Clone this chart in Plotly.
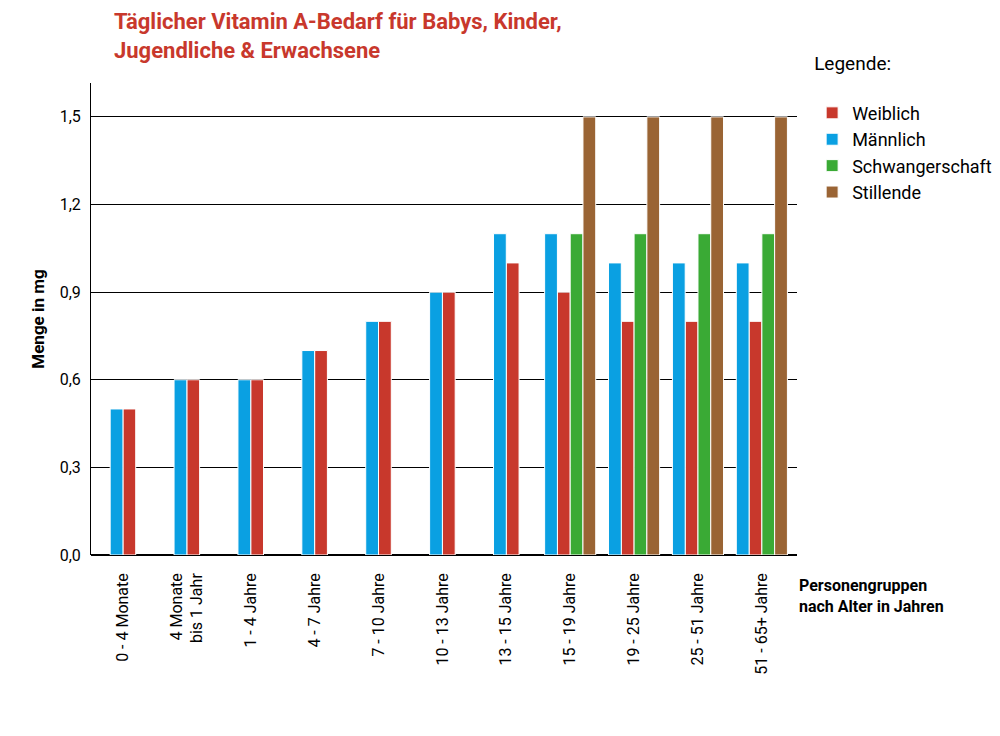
import plotly.graph_objects as go

categories = ["0 - 4 Monate", "4 Monate<br>bis 1 Jahr", "1 - 4 Jahre", "4 - 7 Jahre", "7 - 10 Jahre",
              "10 - 13 Jahre", "13 - 15 Jahre", "15 - 19 Jahre", "19 - 25 Jahre", "25 - 51 Jahre", "51 - 65+ Jahre"]
maennlich = [0.5, 0.6, 0.6, 0.7, 0.8, 0.9, 1.1, 1.1, 1.0, 1.0, 1.0]
weiblich = [0.5, 0.6, 0.6, 0.7, 0.8, 0.9, 1.0, 0.9, 0.8, 0.8, 0.8]
schwanger = [None]*7 + [1.1, 1.1, 1.1, 1.1]
stillende = [None]*7 + [1.5, 1.5, 1.5, 1.5]
y_ticks = [0, 0.3, 0.6, 0.9, 1.2, 1.5]
y_labels = ["0,0", "0,3", "0,6", "0,9", "1,2", "1,5"]

series = [("Männlich", maennlich, "#0aa0e2"), ("Weiblich", weiblich, "#c8382c"),
          ("Schwangerschaft", schwanger, "#3aaa35"), ("Stillende", stillende, "#9a6434")]
W = 0.2
xs = list(range(len(categories)))
counts = [sum(1 for _, v, _ in series if v[i] is not None) for i in xs]

fig = go.Figure()
traces = {}
for si, (name, vals, col) in enumerate(series):
    offs = []
    for i in xs:
        idx = sum(1 for _, v, _ in series[:si] if v[i] is not None)
        offs.append(-counts[i]*W/2 + idx*W)
    traces[name] = go.Bar(x=xs, y=vals, name=name, marker=dict(color=col, line=dict(color="white", width=1)),
                          width=W, offset=offs)
for name in ["Weiblich", "Männlich", "Schwangerschaft", "Stillende"]:
    fig.add_trace(traces[name])

fig.update_layout(
    width=1000, height=736, barmode="overlay", plot_bgcolor="white", paper_bgcolor="white",
    font=dict(family="Roboto", size=16, color="black"),
    margin=dict(l=83, r=210, t=75, b=189),
    xaxis=dict(range=[-0.5, 10.55], tickvals=xs, ticktext=categories, tickangle=-90, showgrid=False,
               showline=False, ticks="", zeroline=False, automargin=False, ticklabelstandoff=14),
    yaxis=dict(range=[0, 1.616], tickvals=y_ticks, ticktext=y_labels, showgrid=True, gridcolor="black",
               gridwidth=1, showline=True, linecolor="black", linewidth=1, zeroline=True, zerolinecolor="black",
               automargin=False, ticklabelstandoff=6,
               title=dict(text="<b>Menge in mg</b>", font=dict(size=17), standoff=10)),
    legend=dict(x=1.02, y=1.08, xanchor="left", yanchor="top", font=dict(size=18),
                title=dict(text="Legende:<br>", font=dict(size=19)), tracegroupgap=8, itemwidth=30),
    annotations=[
        dict(text="<b>Personengruppen<br>nach Alter in Jahren</b>", xref="paper", yref="paper",
             x=1.0, y=-0.04, xanchor="left", yanchor="top", align="left", showarrow=False,
             font=dict(size=16)),
        dict(text="<b>Täglicher Vitamin A-Bedarf für Babys, Kinder,<br>Jugendliche & Erwachsene</b>",
             xref="paper", yref="paper", x=0.03, y=1, xanchor="left", yanchor="bottom", yshift=18,
             align="left", showarrow=False, font=dict(color="#c8382c", size=22)),
    ],
)
fig.write_html("out.html")
